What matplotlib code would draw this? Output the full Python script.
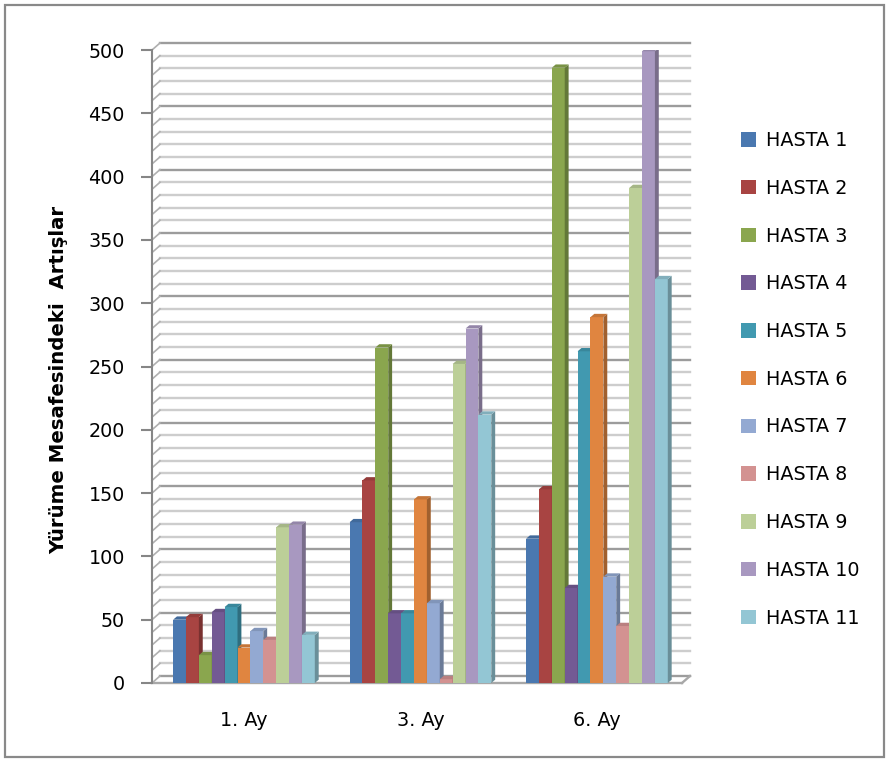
import matplotlib.pyplot as plt
from matplotlib.patches import Polygon, Rectangle

# kategoriler ve hasta degerleri (yurume mesafesindeki artis)
months = ["1. Ay", "3. Ay", "6. Ay"]
patients = ["HASTA 1", "HASTA 2", "HASTA 3", "HASTA 4", "HASTA 5", "HASTA 6",
            "HASTA 7", "HASTA 8", "HASTA 9", "HASTA 10", "HASTA 11"]
hasta1 = [50, 127, 114]
hasta2 = [52, 160, 153]
hasta3 = [22, 265, 486]
hasta4 = [56, 55, 75]
hasta5 = [60, 55, 262]
hasta6 = [28, 145, 289]
hasta7 = [41, 63, 84]
hasta8 = [34, 3, 45]
hasta9 = [123, 252, 391]
hasta10 = [125, 280, 499]
hasta11 = [38, 212, 319]
series = [hasta1, hasta2, hasta3, hasta4, hasta5, hasta6,
          hasta7, hasta8, hasta9, hasta10, hasta11]

colors = ["#4a78b0", "#a84442", "#8aa64e", "#735a94", "#4199b0", "#e08540",
          "#93a9d2", "#d39291", "#bccf98", "#a898c0", "#93c6d4"]

yticks = list(range(0, 501, 50))


def shade(c, f):
    c = c.lstrip("#")
    r, g, b = (int(c[i:i + 2], 16) for i in (0, 2, 4))
    return (r * f / 255, g * f / 255, b * f / 255)


plt.rcParams['font.family'] = ['DejaVu Sans']

fig = plt.figure(figsize=(8.89, 7.62), dpi=100)
ax = fig.add_axes([152 / 889, 79 / 762, 530 / 889, 633 / 762])

xmin, xmax = -0.521, 2.482
ax.set_xlim(xmin, xmax)
ax.set_ylim(0, 500)

# derinlik (3D gorunum) icin kaydirma, veri biriminde
DX, DY = 0.045, 5.5      # arka duvar
BX, BY = 0.022, 2.6      # sutun derinligi

# arka duvar cizgileri, her 10 birimde bir
for v in range(0, 501, 10):
    col = "#9c9c9c" if v % 50 == 0 else "#cdcdcd"
    ax.plot([xmin + DX, xmax + DX], [v + DY, v + DY], color=col, lw=1.7,
            clip_on=False, zorder=1)
    ax.plot([xmin, xmin + DX], [v, v + DY], color="#b0b0b0", lw=1.2,
            clip_on=False, zorder=1)

# zemin
ax.plot([xmin, xmax], [0, 0], color="#a8a8a8", lw=1.7, clip_on=False, zorder=1)
ax.plot([xmax, xmax + DX], [0, DY], color="#a8a8a8", lw=1.7, clip_on=False, zorder=1)

# sutunlar
w = 0.073
for i, (vals, c) in enumerate(zip(series, colors)):
    for g, v in enumerate(vals):
        xl = g + (i - 5.5) * w
        xr = xl + w
        z = 3 + i * 0.01
        ax.bar(xl, v, width=w, align='edge', color=c, edgecolor='none', zorder=z)
        side = Polygon([(xr, 0), (xr + BX, BY), (xr + BX, v + BY), (xr, v)],
                       closed=True, facecolor=shade(c, 0.72), edgecolor='none', zorder=z)
        top = Polygon([(xl, v), (xl + BX, v + BY), (xr + BX, v + BY), (xr, v)],
                      closed=True, facecolor=shade(c, 0.88), edgecolor='none', zorder=z)
        ax.add_patch(side)
        ax.add_patch(top)

# eksenler
for s in ax.spines.values():
    s.set_visible(False)
ax.plot([xmin, xmin], [0, 500], color="#868686", lw=1.5, clip_on=False, zorder=2)
ax.set_yticks(yticks)
ax.tick_params(axis='y', length=8, width=1.5, color="#868686", pad=11.5,
               labelsize=13.8, labelcolor="black")
ax.set_xticks(range(len(months)))
ax.set_xticklabels(months)
ax.tick_params(axis='x', length=0, pad=20, labelsize=13.8)

ax.set_ylabel("Yürüme Mesafesindeki  Artışlar", fontsize=14.2, fontweight='bold')
ax.yaxis.set_label_coords(-0.158, 0.479)

# lejant
handles = [Rectangle((0, 0), 1, 1, facecolor=c, edgecolor='none') for c in colors]
fig.legend(handles, patients, loc='upper left', bbox_to_anchor=(741 / 889, 1 - 131 / 762),
           frameon=False, fontsize=13.8, labelspacing=1.5, handlelength=0.78,
           handleheight=0.78, handletextpad=0.52, borderpad=0, borderaxespad=0)

# grafik cercevesi
fig.add_artist(Rectangle((5 / 889, 5 / 762), 879 / 889, 752 / 762, transform=fig.transFigure,
                         fill=False, edgecolor="#898989", lw=1.6))

fig.savefig("out.png", dpi=100)
